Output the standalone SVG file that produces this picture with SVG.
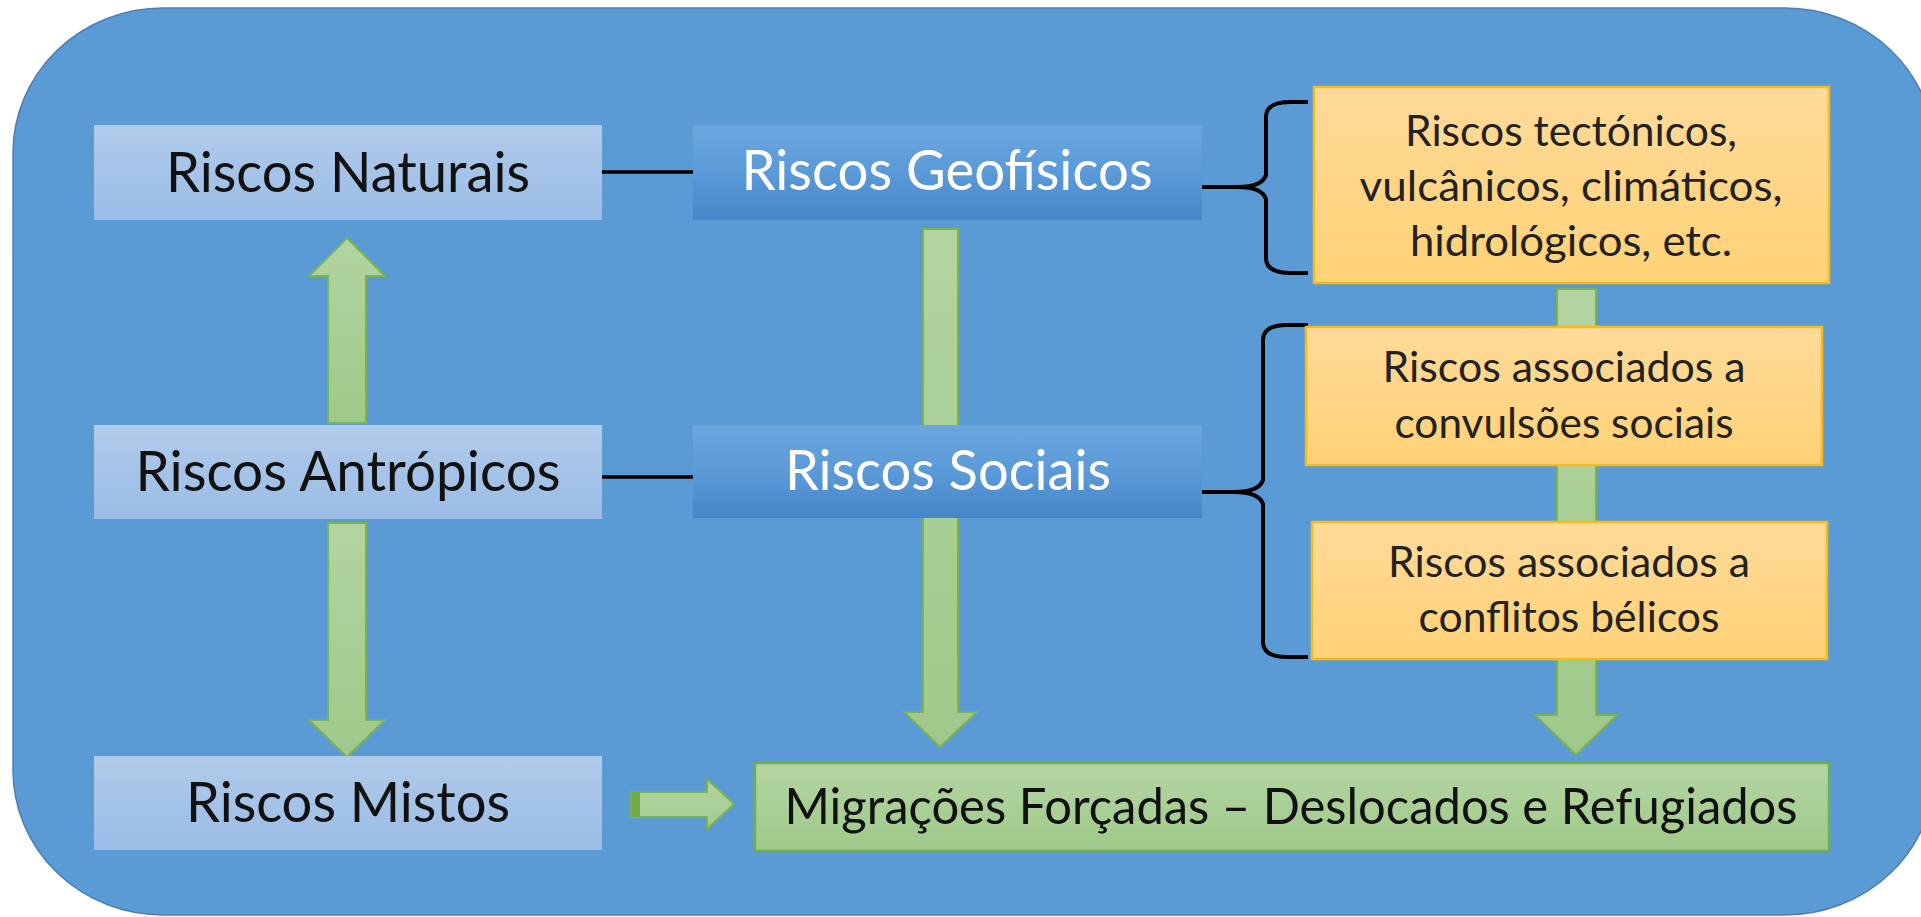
<svg xmlns="http://www.w3.org/2000/svg" width="1921" height="917" viewBox="0 0 1921 917">
<defs>
<linearGradient id="gLight" x1="0" y1="0" x2="0" y2="1"><stop offset="0" stop-color="#b0cbea"/><stop offset="1" stop-color="#9bbce6"/></linearGradient>
<linearGradient id="gDark" x1="0" y1="0" x2="0" y2="1"><stop offset="0" stop-color="#6da6de"/><stop offset="0.5" stop-color="#5a9ad8"/><stop offset="1" stop-color="#4686c8"/></linearGradient>
<linearGradient id="gOrange" x1="0" y1="0" x2="0" y2="1"><stop offset="0" stop-color="#ffda9a"/><stop offset="1" stop-color="#ffd276"/></linearGradient>
<linearGradient id="gGreen" x1="0" y1="0" x2="0" y2="1"><stop offset="0" stop-color="#b4d5a2"/><stop offset="1" stop-color="#9fc98a"/></linearGradient>
<linearGradient id="gArrow" x1="0" y1="0" x2="0" y2="1"><stop offset="0" stop-color="#b3d4a1"/><stop offset="1" stop-color="#9fc98a"/></linearGradient>
<linearGradient id="gArrowH" x1="0" y1="0" x2="0" y2="1"><stop offset="0" stop-color="#b3d4a1"/><stop offset="1" stop-color="#a3cb8f"/></linearGradient>
</defs>
<style>
.t{font-family:Lato,"Open Sans","Liberation Sans",sans-serif;text-anchor:middle;fill:#111}
.big{font-size:56px}
.mid{font-size:43px;fill:#222}
.grn{font-size:50px}
.wh{fill:#ffffff}
.light{fill:url(#gLight)}
.dark{fill:url(#gDark)}
.orange{fill:url(#gOrange);stroke:#f6bb1a;stroke-width:2.5}
.green{fill:url(#gGreen);stroke:#72ae4b;stroke-width:2.5}
.arrow{fill:url(#gArrow);stroke:#7ab357;stroke-width:2}
.line{fill:none;stroke:#000;stroke-width:3.5;stroke-linecap:butt}
.brace{fill:none;stroke:#000;stroke-width:4;stroke-linejoin:round}
</style>
<rect x="0" y="0" width="1921" height="917" fill="#ffffff"/>
<rect id="background" x="13" y="8" width="1922" height="907" rx="150" ry="145" fill="#5b9bd5" stroke="#4a7fb5" stroke-width="1.5"/>
<g id="connectors">
<path class="arrow" d="M328,423 L328,276 L309,276 L347,238 L385,276 L366,276 L366,423 Z"/>
<path class="arrow" d="M328,523 L328,720 L309,720 L347,757 L385,720 L366,720 L366,523 Z"/>
<path class="arrow" d="M923,229 L923,712 L904,712 L940,747 L977,712 L958,712 L958,229 Z"/>
<path class="arrow" d="M1557,289 L1557,715 L1535,715 L1576,755 L1617,715 L1596,715 L1596,289 Z"/>
<path d="M631,792 L707,792 L707,779 L734,804 L707,829 L707,817 L631,817 Z" fill="url(#gArrowH)" stroke="#7ab357" stroke-width="2"/>
<rect x="631" y="792" width="9" height="25" fill="#70ad47"/>
<line class="line" x1="602" y1="172" x2="693" y2="172"/>
<line class="line" x1="602" y1="477" x2="693" y2="477"/>
<path class="brace" d="M1202,187 L1238,187 Q1262,187 1266,175 L1266,116 Q1267,102 1290,102 L1308,102"/>
<path class="brace" d="M1238,187 Q1262,187 1266,199 L1266,259 Q1267,273 1290,273 L1308,273"/>
<path class="brace" d="M1202,492 L1234,492 Q1259,492 1263,480 L1263,339 Q1264,325 1287,325 L1308,325"/>
<path class="brace" d="M1234,492 Q1259,492 1263,504 L1263,643 Q1264,657 1287,657 L1308,657"/>
</g>
<g id="riscos-naturais">
<rect class="light" x="94" y="125" width="508" height="95"/>
<text class="t big" x="348" y="192" textLength="364" lengthAdjust="spacingAndGlyphs">Riscos Naturais</text>
</g>
<g id="riscos-antropicos">
<rect class="light" x="94" y="425" width="508" height="94"/>
<text class="t big" x="348" y="491" textLength="425" lengthAdjust="spacingAndGlyphs">Riscos Antrópicos</text>
</g>
<g id="riscos-mistos">
<rect class="light" x="94" y="756" width="508" height="94"/>
<text class="t big" x="348" y="822" textLength="324" lengthAdjust="spacingAndGlyphs">Riscos Mistos</text>
</g>
<g id="riscos-geofisicos">
<rect class="dark" x="693" y="125" width="509" height="95"/>
<text class="t big wh" x="947" y="190" textLength="411" lengthAdjust="spacingAndGlyphs">Riscos Geofísicos</text>
</g>
<g id="riscos-sociais">
<rect class="dark" x="693" y="425" width="509" height="93"/>
<text class="t big wh" x="948" y="490" textLength="326" lengthAdjust="spacingAndGlyphs">Riscos Sociais</text>
</g>
<g id="riscos-tectonicos">
<rect class="orange" x="1314" y="87" width="515" height="196"/>
<text class="t mid" x="1571" y="146" textLength="332" lengthAdjust="spacingAndGlyphs">Riscos tectónicos,</text>
<text class="t mid" x="1571" y="201" textLength="423" lengthAdjust="spacingAndGlyphs">vulcânicos, climáticos,</text>
<text class="t mid" x="1571" y="256" textLength="322" lengthAdjust="spacingAndGlyphs">hidrológicos, etc.</text>
</g>
<g id="riscos-convulsoes">
<rect class="orange" x="1306" y="327" width="516" height="138"/>
<text class="t mid" x="1564" y="382" textLength="363" lengthAdjust="spacingAndGlyphs">Riscos associados a</text>
<text class="t mid" x="1564" y="438" textLength="339" lengthAdjust="spacingAndGlyphs">convulsões sociais</text>
</g>
<g id="riscos-conflitos">
<rect class="orange" x="1312" y="522" width="515" height="137"/>
<text class="t mid" x="1569" y="577" textLength="362" lengthAdjust="spacingAndGlyphs">Riscos associados a</text>
<text class="t mid" x="1569" y="632" textLength="301" lengthAdjust="spacingAndGlyphs">conflitos bélicos</text>
</g>
<g id="migracoes">
<rect class="green" x="755" y="763" width="1074" height="88"/>
<text class="t grn" x="1291" y="824" textLength="1013" lengthAdjust="spacingAndGlyphs">Migrações Forçadas – Deslocados e Refugiados</text>
</g>
</svg>
